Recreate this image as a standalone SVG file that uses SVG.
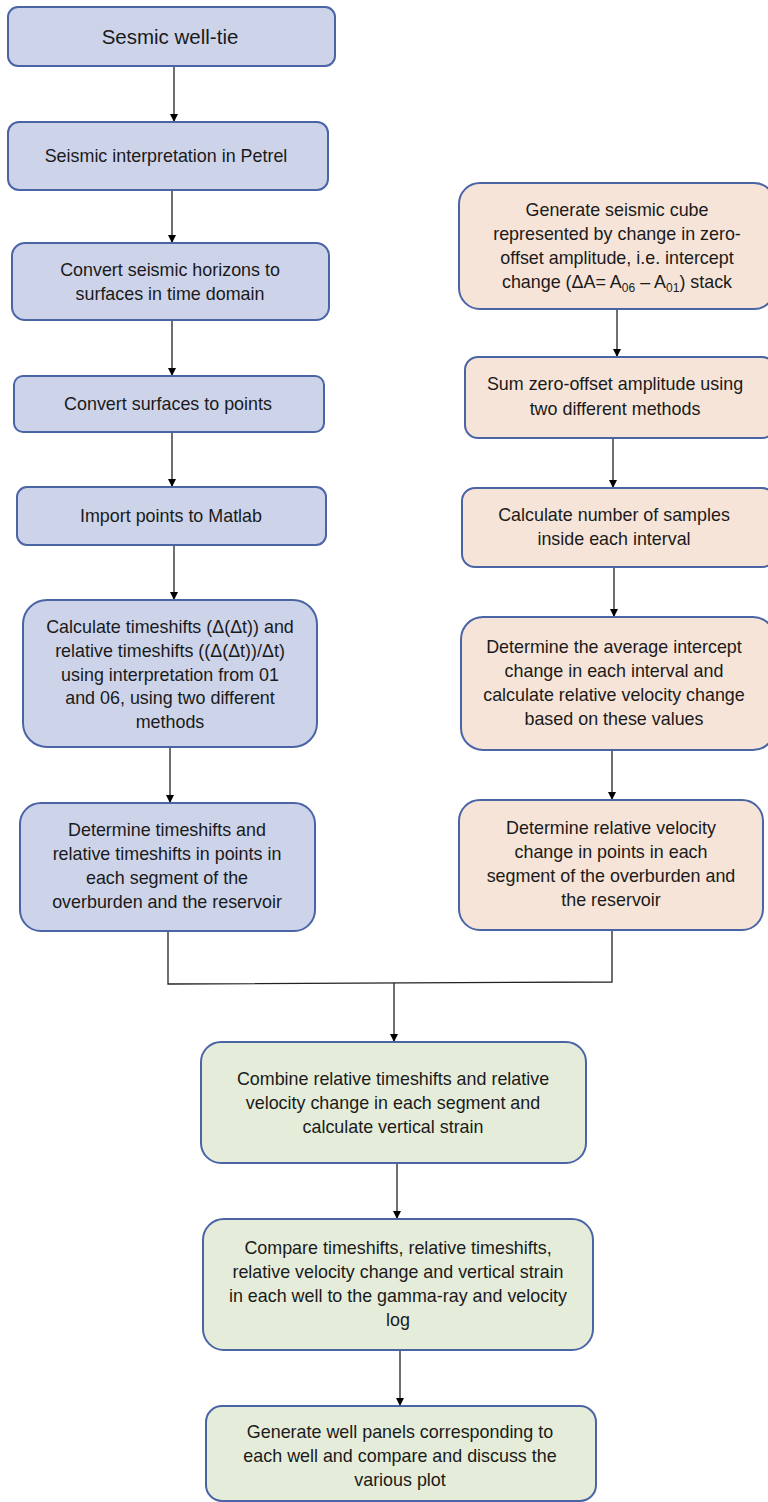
<svg xmlns="http://www.w3.org/2000/svg" width="768" height="1502" viewBox="0 0 768 1502">
<style>
.b rect{fill:#CDD4EA;stroke:#4A64A6;stroke-width:2}
.o rect{fill:#F6E4D8;stroke:#4A64A6;stroke-width:2}
.g rect{fill:#E5EDDA;stroke:#4A64A6;stroke-width:2}
text{font-family:"Liberation Sans",Arial,sans-serif;font-size:17.9px;fill:#1a1a1a;text-anchor:middle}
.t{font-size:20.5px}
.sub{font-size:12px}
#connectors path,#connectors line{stroke:#222;stroke-width:1.3;fill:none}
</style>
<defs>
<marker id="ah" viewBox="0 0 10 10" refX="10" refY="5" markerWidth="8" markerHeight="9" markerUnits="userSpaceOnUse" orient="auto">
<path d="M0,0 L10,5 L0,10 Z" fill="#000"/>
</marker>
</defs>
<g id="connectors">
<line x1="174" y1="66" x2="174" y2="122" marker-end="url(#ah)"/>
<line x1="172" y1="190" x2="172" y2="243" marker-end="url(#ah)"/>
<line x1="172" y1="320" x2="172" y2="376" marker-end="url(#ah)"/>
<line x1="172" y1="432" x2="172" y2="487" marker-end="url(#ah)"/>
<line x1="174" y1="545" x2="174" y2="600" marker-end="url(#ah)"/>
<line x1="170" y1="747" x2="170" y2="803" marker-end="url(#ah)"/>
<line x1="617" y1="309" x2="617" y2="357" marker-end="url(#ah)"/>
<line x1="613" y1="438" x2="613" y2="488" marker-end="url(#ah)"/>
<line x1="614" y1="567" x2="614" y2="617" marker-end="url(#ah)"/>
<line x1="612" y1="750" x2="612" y2="800" marker-end="url(#ah)"/>
<path d="M168,931 L168,984 L612,982 L612,930"/>
<line x1="394" y1="983" x2="394" y2="1042" marker-end="url(#ah)"/>
<line x1="397" y1="1163" x2="397" y2="1219" marker-end="url(#ah)"/>
<line x1="400" y1="1350" x2="400" y2="1406" marker-end="url(#ah)"/>
</g>
<g id="n1" class="b"><rect x="8" y="7" width="327" height="59" rx="10"/><text class="t" x="170" y="44">Sesmic well-tie</text></g>
<g id="n2" class="b"><rect x="8" y="122" width="320" height="68" rx="11"/><text x="166" y="162">Seismic interpretation in Petrel</text></g>
<g id="n3" class="b"><rect x="12" y="243" width="317" height="77" rx="13"/><text x="170" y="276">Convert seismic horizons to</text><text x="170" y="300">surfaces in time domain</text></g>
<g id="n4" class="b"><rect x="14" y="376" width="310" height="56" rx="9"/><text x="168" y="410">Convert surfaces to points</text></g>
<g id="n5" class="b"><rect x="17" y="487" width="309" height="58" rx="10"/><text x="171" y="522">Import points to Matlab</text></g>
<g id="n6" class="b"><rect x="23" y="600" width="294" height="147" rx="24"/><text x="170" y="633">Calculate timeshifts (Δ(Δt)) and</text><text x="170" y="657">relative timeshifts ((Δ(Δt))/Δt)</text><text x="170" y="681">using interpretation from 01</text><text x="170" y="704">and 06, using two different</text><text x="170" y="728">methods</text></g>
<g id="n7" class="b"><rect x="20" y="803" width="295" height="128" rx="21"/><text x="167" y="836">Determine timeshifts and</text><text x="167" y="860">relative timeshifts in points in</text><text x="167" y="884">each segment of the</text><text x="167" y="908">overburden and the reservoir</text></g>
<g id="r1" class="o"><rect x="459" y="183" width="316" height="126" rx="21"/><text x="617" y="216">Generate seismic cube</text><text x="617" y="240">represented by change in zero-</text><text x="617" y="264">offset amplitude, i.e. intercept</text><text x="617" y="288">change (ΔA= A<tspan class="sub" dy="4">06</tspan><tspan dy="-4"> – A</tspan><tspan class="sub" dy="4">01</tspan><tspan dy="-4">) stack</tspan></text></g>
<g id="r2" class="o"><rect x="465" y="357" width="310" height="81" rx="13"/><text x="615" y="390">Sum zero-offset amplitude using</text><text x="615" y="415">two different methods</text></g>
<g id="r3" class="o"><rect x="462" y="488" width="313" height="79" rx="13"/><text x="614" y="521">Calculate number of samples</text><text x="614" y="545">inside each interval</text></g>
<g id="r4" class="o"><rect x="461" y="617" width="314" height="133" rx="22"/><text x="614" y="653">Determine the average intercept</text><text x="614" y="677">change in each interval and</text><text x="614" y="701">calculate relative velocity change</text><text x="614" y="725">based on these values</text></g>
<g id="r5" class="o"><rect x="459" y="800" width="304" height="130" rx="21"/><text x="611" y="834">Determine relative velocity</text><text x="611" y="858">change in points in each</text><text x="611" y="882">segment of the overburden and</text><text x="611" y="906">the reservoir</text></g>
<g id="g1" class="g"><rect x="201" y="1042" width="385" height="121" rx="20"/><text x="393" y="1085">Combine relative timeshifts and relative</text><text x="393" y="1109">velocity change in each segment and</text><text x="393" y="1133">calculate vertical strain</text></g>
<g id="g2" class="g"><rect x="203" y="1219" width="390" height="131" rx="21"/><text x="398" y="1254">Compare timeshifts, relative timeshifts,</text><text x="398" y="1278">relative velocity change and vertical strain</text><text x="398" y="1302">in each well to the gamma-ray and velocity</text><text x="398" y="1326">log</text></g>
<g id="g3" class="g"><rect x="206" y="1406" width="390" height="95" rx="16"/><text x="400" y="1438">Generate well panels corresponding to</text><text x="400" y="1462">each well and compare and discuss the</text><text x="400" y="1486">various plot</text></g>
</svg>
